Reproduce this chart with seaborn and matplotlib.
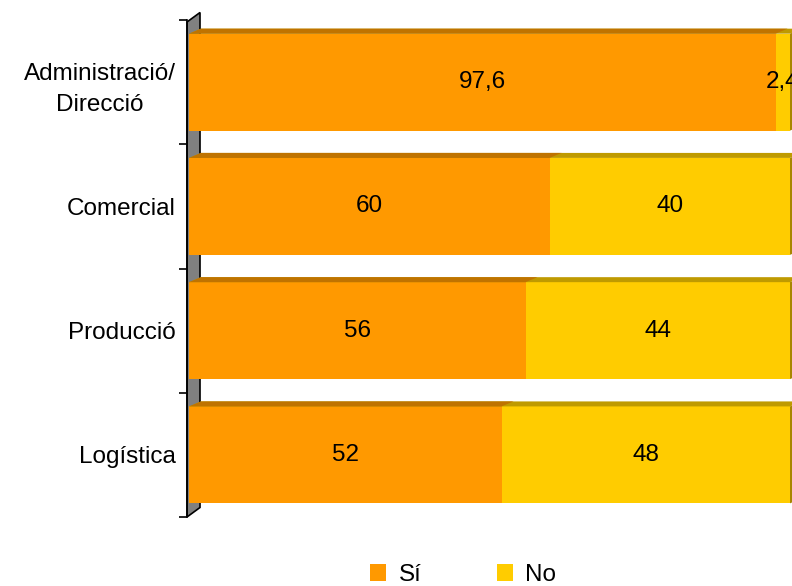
import matplotlib
matplotlib.use("Agg")
import matplotlib.pyplot as plt
import seaborn as sns
import pandas as pd
from matplotlib.patches import Polygon, Patch
from matplotlib.transforms import IdentityTransform

categories = ["Administració/\nDirecció", "Comercial", "Producció", "Logística"]
si_values = [97.6, 60, 56, 52]
no_values = [2.4, 40, 44, 48]
series_names = ["Sí", "No"]

ORANGE = "#FF9900"
YELLOW = "#FFCC00"
ORANGE_TOP = "#BF7300"
YELLOW_TOP = "#BF9A00"
YELLOW_SIDE = "#A88600"
FS = 17.5

sns.set_theme(style="white")
plt.rcParams["font.family"] = ["Liberation Sans", "DejaVu Sans"]
plt.rcParams["text.color"] = "black"
plt.rcParams["ytick.labelcolor"] = "black"

df = pd.DataFrame({"cat": categories, "si": si_values, "no": no_values})
df["total"] = df["si"] + df["no"]

W, H = 792, 586
fig = plt.figure(figsize=(W / 100, H / 100), dpi=100)
ax_left, ax_right, ax_top, ax_bot = 187, 792, 20, 517
ax = fig.add_axes([ax_left / W, 1 - ax_bot / H, (ax_right - ax_left) / W, (ax_bot - ax_top) / H])

sns.barplot(data=df, x="total", y="cat", color=YELLOW, saturation=1, width=0.78,
            orient="h", ax=ax, linewidth=0, zorder=2)
n_tot = len(ax.patches)
sns.barplot(data=df, x="si", y="cat", color=ORANGE, saturation=1, width=0.78,
            orient="h", ax=ax, linewidth=0, zorder=2)

# x scale: 0 -> 189px, 100 -> 790px
scale = (790 - 189) / 100
ax.set_xlim(-(189 - ax_left) / scale, 100 + (ax_right - 790) / scale)
ax.set_ylim(len(categories) - 0.5, -0.5)
ax.set_xlabel("")
ax.set_ylabel("")
ax.set_xticks([])
for s in ["top", "right", "bottom"]:
    ax.spines[s].set_visible(False)
ax.spines["left"].set_color("black")
ax.spines["left"].set_linewidth(1.2)
ax.spines["left"].set_zorder(6)

ax.set_yticks(range(len(categories)))
ax.set_yticklabels(categories, fontsize=FS, color="black")
ax.set_yticks([i - 0.5 for i in range(len(categories) + 1)], minor=True)
ax.tick_params(axis="y", which="major", length=0, pad=8)
ax.tick_params(axis="y", which="minor", length=5.5, width=1.2, color="black", left=True)
for lbl in ax.get_yticklabels():
    lbl.set_multialignment("center")
    lbl.set_linespacing(1.55)

# 3D wall on the left (behind the bars)
idt = IdentityTransform()
wx0 = ax.transAxes.transform((0, 0))[0]
yb = ax.transAxes.transform((0, 0))[1]
yt = ax.transAxes.transform((0, 1))[1]
wdx, wdy = 13, 9.5
wall = Polygon([(wx0, yb), (wx0, yt - 2), (wx0 + wdx, yt - 2 + wdy), (wx0 + wdx, yb + wdy)],
               closed=True, facecolor="#808080", edgecolor="black", linewidth=1.2,
               transform=idt, clip_on=False, zorder=0.5)
ax.add_artist(wall)

# 3D top/side faces for bars
dx, dy = 12, 5
patches = list(ax.patches)
for i, p in enumerate(patches):
    if p is wall:
        continue
    x0, y0 = p.get_x(), p.get_y()
    x1, y1 = x0 + p.get_width(), y0 + p.get_height()
    (dx0, dyA) = ax.transData.transform((x0, y0))
    (dx1, dyB) = ax.transData.transform((x1, y1))
    top = max(dyA, dyB)
    bot = min(dyA, dyB)
    is_total = i < n_tot
    col = YELLOW_TOP if is_total else ORANGE_TOP
    face = Polygon([(dx0, top), (dx1, top), (dx1 + dx, top + dy), (dx0 + dx, top + dy)],
                   closed=True, facecolor=col, edgecolor="none", transform=idt,
                   clip_on=False, zorder=3 if is_total else 3.5)
    ax.add_artist(face)
    if is_total:
        side = Polygon([(dx1, bot), (dx1, top), (dx1 + dx, top + dy), (dx1 + dx, bot + dy)],
                       closed=True, facecolor=YELLOW_SIDE, edgecolor="none", transform=idt,
                       clip_on=False, zorder=3)
        ax.add_artist(side)

# value labels
def fmt(v):
    return f"{v:g}".replace(".", ",")

for i in range(len(categories)):
    s, n = si_values[i], no_values[i]
    ax.text(s / 2, i, fmt(s), ha="center", va="center", fontsize=FS, color="black", zorder=5)
    ax.text(s + n / 2, i, fmt(n), ha="center", va="center", fontsize=FS, color="black",
            zorder=5, clip_on=False)

handles = [Patch(facecolor=ORANGE, edgecolor="none"), Patch(facecolor=YELLOW, edgecolor="none")]
fig.legend(handles, series_names, loc="center", bbox_to_anchor=(463 / W, 1 - 575 / H),
           ncol=2, frameon=False, fontsize=FS, handlelength=0.66, handleheight=0.66,
           handletextpad=0.5, columnspacing=3.1)

fig.savefig("out.png", dpi=100)
